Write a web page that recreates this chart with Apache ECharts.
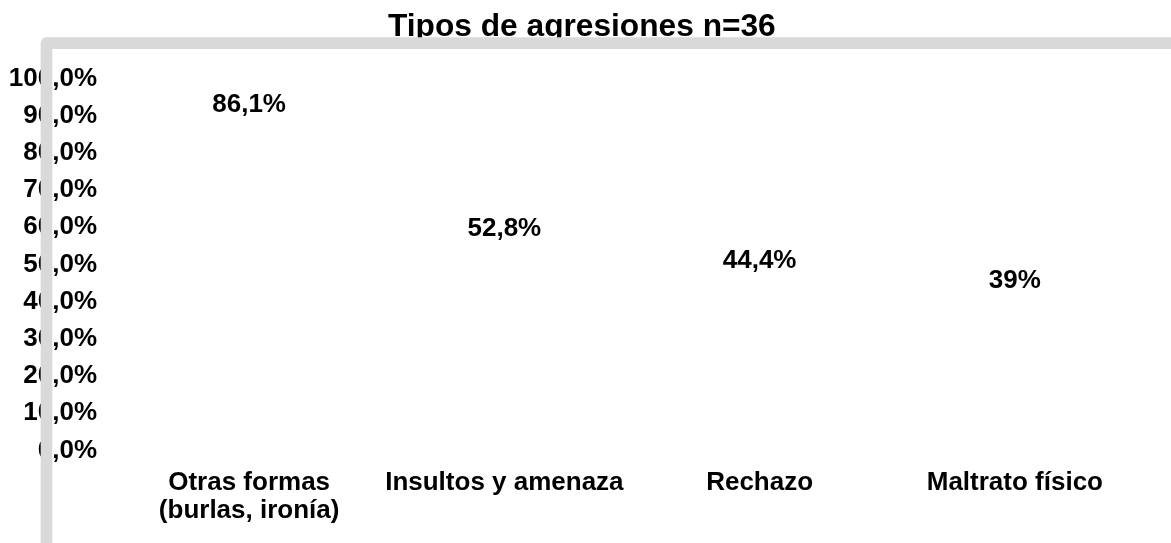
<!DOCTYPE html>
<html>
<head>
<meta charset="utf-8">
<script src="https://cdn.jsdelivr.net/npm/echarts@6/dist/echarts.min.js"></script>
<style>
html,body{margin:0;padding:0;background:#fff;}
#chart{width:1171px;height:543px;}
</style>
</head>
<body>
<div id="chart"></div>
<script>
var titleText = 'Tipos de agresiones n=36';
var categories = ['Otras formas\n(burlas, ironía)', 'Insultos y amenaza', 'Rechazo', 'Maltrato físico'];
var values = [86.1, 52.8, 44.4, 39];
var yMin = 0, yMax = 100, yStep = 10;

var FONT = "'Liberation Sans', Arial, sans-serif";
function fmtPct(v, dec) {
  return v.toFixed(dec).replace('.', ',') + '%';
}

var chart = echarts.init(document.getElementById('chart'), null, {renderer: 'canvas'});
chart.setOption({
  backgroundColor: '#ffffff',
  animation: false,
  title: {
    text: titleText,
    left: 388,
    top: 11.5,
    padding: 0,
    textStyle: {fontFamily: FONT, fontWeight: 'bold', fontSize: 31.7, color: '#000', lineHeight: 32}
  },
  grid: {left: 121.5, right: 28.5, top: 78.5, bottom: 92.5, containLabel: false},
  xAxis: {
    type: 'category',
    data: categories,
    axisLine: {show: false},
    axisTick: {show: false},
    splitLine: {show: false},
    axisLabel: {
      interval: 0,
      margin: 18,
      fontFamily: FONT, fontWeight: 'bold', fontSize: 26, color: '#000', lineHeight: 28
    }
  },
  yAxis: {
    type: 'value',
    min: yMin, max: yMax, interval: yStep,
    axisLine: {show: false},
    axisTick: {show: false},
    splitLine: {show: false},
    axisLabel: {
      margin: 24.5,
      fontFamily: FONT, fontWeight: 'bold', fontSize: 26, color: '#000',
      formatter: function (v) { return fmtPct(v, 1); }
    }
  },
  series: [{
    type: 'bar',
    data: values,
    barWidth: '50%',
    itemStyle: {color: 'rgba(0,0,0,0)'},
    label: {
      show: true,
      position: 'top',
      distance: 12,
      fontFamily: FONT, fontWeight: 'bold', fontSize: 26, color: '#000',
      formatter: function (p) {
        var v = p.value;
        return Number.isInteger(v) ? v + '%' : fmtPct(v, 1);
      }
    }
  }],
  graphic: [{
    type: 'polyline',
    z: 100,
    silent: true,
    shape: {points: [[46.5, 560], [46.5, 43.2], [1190, 43.2]]},
    style: {stroke: '#d9d9d9', lineWidth: 11.7, fill: null, lineJoin: 'round'}
  }]
});
</script>
</body>
</html>
